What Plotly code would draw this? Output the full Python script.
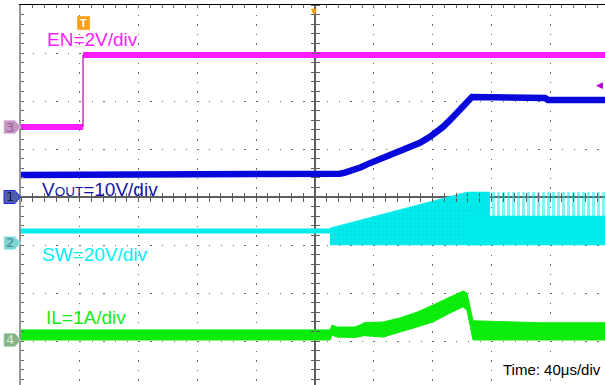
import plotly.graph_objects as go

# ---------------- scope settings ----------------
T_DIV = 40            # us / div, t = 0 at screen centre
X_RANGE = [-200, 197.3]
Y_RANGE = [-3.9167, 4]  # divisions

EN_SCALE, EN_GND = 2.0, 1.458      # V/div, ground (div)
VOUT_SCALE, VOUT_GND = 10.0, 0.0
SW_SCALE, SW_GND = 20.0, -0.958
IL_SCALE, IL_GND = 1.0, -2.979

TRIG_T = -157.8       # us

# ---------------- data ----------------
en_low_t = [-200, TRIG_T]
en_low_v = [0.0, 0.0]
en_high_t = [TRIG_T, 197.3]
en_high_v = [3.0, 3.0]

vout_t = [-200, 10.2, 13.6, 17.0, 20.4, 23.8, 27.2, 31.3, 35.4, 41.5, 47.6, 52.7, 57.8,
          64.6, 71.4, 78.2, 83.0, 87.1, 91.8, 98.6, 103.4, 106.8, 156.5, 158.5, 197.3]
vout_v = [4.58, 4.58, 4.68, 4.85, 5.08, 5.35, 5.7, 6.2, 6.8, 7.6, 8.4, 8.95, 9.5,
          10.3, 11.3, 12.55, 13.6, 14.6, 16.0, 18.1, 19.6, 20.83, 20.63, 20.21, 20.21]

sw_flat_t = [-200, 10.2]
sw_flat_v = [5.0, 5.0]
sw_burst_t = [10.2, 103.4, 119.0]
sw_burst_top = [6.25, 21.25, 21.25]
sw_low = -0.83
sw_sat_t = [103.4, 197.3]
sw_sat_top = 21.25
sw_sat_mid = 11.25

il_t = [-200, 10.2, 11.6, 15.0, 27.0, 30.6, 33.5, 46.3, 57.8, 69.4, 80.3, 91.8, 100.7,
        103.4, 107.5, 153.1, 197.3]
il_hi = [0.21, 0.21, 0.31, 0.27, 0.27, 0.31, 0.36, 0.375, 0.46, 0.58, 0.73, 0.90, 1.02,
         0.98, 0.40, 0.36, 0.36]
il_lo = [0.0, 0.0, 0.10, 0.06, 0.05, 0.07, 0.09, 0.06, 0.17, 0.27, 0.375, 0.56, 0.69,
         0.62, 0.0, 0.0, 0.0]


def div(vals, scale, gnd):
    return [gnd + v / scale for v in vals]


MAG = '#FF1AFF'
BLUE = '#0808DC'
CYAN = '#00ECEC'
GREEN = '#0CEC0C'

fig = go.Figure()

# SW burst (dense switching)
fig.add_trace(go.Scatter(
    x=sw_burst_t + sw_burst_t[::-1],
    y=div(sw_burst_top, SW_SCALE, SW_GND) + div([sw_low] * len(sw_burst_t), SW_SCALE, SW_GND),
    fill='toself', mode='lines', line=dict(width=0.5, color=CYAN),
    fillcolor=CYAN,
    fillpattern=dict(shape='.', fgcolor='rgb(0,185,195)', bgcolor=CYAN, size=4, solidity=0.12),
    hoverinfo='skip'))
# SW lower solid band after saturation
fig.add_trace(go.Scatter(
    x=sw_sat_t + sw_sat_t[::-1],
    y=div([sw_sat_mid] * 2, SW_SCALE, SW_GND) + div([sw_low] * 2, SW_SCALE, SW_GND),
    fill='toself', mode='lines', line=dict(width=0.5, color=CYAN),
    fillcolor=CYAN, hoverinfo='skip'))
# SW upper band of spikes
fig.add_trace(go.Scatter(
    x=sw_sat_t + sw_sat_t[::-1],
    y=div([sw_sat_top] * 2, SW_SCALE, SW_GND) + div([sw_sat_mid] * 2, SW_SCALE, SW_GND),
    fill='toself', mode='lines', line=dict(width=0),
    fillcolor='rgba(0,0,0,0)',
    fillpattern=dict(shape='|', fgcolor=CYAN, bgcolor='rgba(255,255,255,0)', size=5, solidity=0.6),
    hoverinfo='skip'))
# SW flat
fig.add_trace(go.Scatter(x=sw_flat_t, y=div(sw_flat_v, SW_SCALE, SW_GND), mode='lines',
                         line=dict(color=CYAN, width=5), hoverinfo='skip'))

# IL band
fig.add_trace(go.Scatter(
    x=il_t + il_t[::-1],
    y=div(il_hi, IL_SCALE, IL_GND) + div(il_lo[::-1], IL_SCALE, IL_GND),
    fill='toself', mode='lines', line=dict(width=1, color=GREEN), fillcolor=GREEN,
    hoverinfo='skip'))

# VOUT
fig.add_trace(go.Scatter(x=vout_t, y=div(vout_v, VOUT_SCALE, VOUT_GND), mode='lines',
                         line=dict(color=BLUE, width=6.5), hoverinfo='skip'))

# EN
fig.add_trace(go.Scatter(x=en_low_t, y=div(en_low_v, EN_SCALE, EN_GND), mode='lines',
                         line=dict(color=MAG, width=6), hoverinfo='skip'))
fig.add_trace(go.Scatter(x=en_high_t, y=div(en_high_v, EN_SCALE, EN_GND), mode='lines',
                         line=dict(color=MAG, width=6), hoverinfo='skip'))
fig.add_trace(go.Scatter(x=[en_low_t[-1], en_high_t[0]],
                         y=div([en_low_v[-1], en_high_v[0]], EN_SCALE, EN_GND), mode='lines',
                         line=dict(color='#B400B4', width=1.2), hoverinfo='skip'))

# dummy traces for centre-line tick axes
fig.add_trace(go.Scatter(x=[None], y=[None], xaxis='x2', yaxis='y2', hoverinfo='skip'))
fig.add_trace(go.Scatter(x=[None], y=[None], xaxis='x3', yaxis='y3', hoverinfo='skip'))

GRID = 'rgb(105,105,105)'
fig.update_layout(
    width=605, height=385, margin=dict(l=21, r=0, t=5, b=0),
    paper_bgcolor='white', plot_bgcolor='white', showlegend=False,
    xaxis=dict(range=X_RANGE, side='top', showline=True, linecolor='black', linewidth=1,
               showgrid=True, gridcolor=GRID, gridwidth=1, griddash='1.3px,8.3px',
               dtick=T_DIV, tick0=0, ticks='inside', ticklen=3, tickcolor=GRID,
               minor=dict(dtick=T_DIV / 5, tick0=0, ticks='inside', ticklen=3, tickcolor=GRID, showgrid=False),
               showticklabels=False, zeroline=True, zerolinecolor='rgb(95,95,95)', zerolinewidth=1.5,
               fixedrange=True),
    yaxis=dict(range=Y_RANGE, showline=True, linecolor='rgb(150,150,150)', linewidth=2.5,
               showgrid=True, gridcolor=GRID, gridwidth=1, griddash='1.3px,10.46px',
               dtick=1, tick0=0, ticks='inside', ticklen=3, tickcolor=GRID,
               minor=dict(dtick=0.2, tick0=0, ticks='inside', ticklen=3, tickcolor=GRID, showgrid=False),
               showticklabels=False, zeroline=True, zerolinecolor='rgb(95,95,95)', zerolinewidth=1.5,
               fixedrange=True),
    xaxis2=dict(range=X_RANGE, overlaying='x', anchor='free',
                position=(0 - Y_RANGE[0]) / (Y_RANGE[1] - Y_RANGE[0]),
                showgrid=False, zeroline=False, showline=False, showticklabels=False,
                ticks='outside', ticklen=4, tickcolor='rgb(95,95,95)', dtick=T_DIV / 5, tick0=0),
    yaxis2=dict(range=Y_RANGE, overlaying='y', anchor='free',
                position=(0 - X_RANGE[0]) / (X_RANGE[1] - X_RANGE[0]),
                showgrid=False, zeroline=False, showline=False, showticklabels=False,
                ticks='outside', ticklen=4, tickcolor='rgb(95,95,95)', dtick=0.2, tick0=0),
    xaxis3=dict(range=X_RANGE, overlaying='x', anchor='free',
                position=(0 - Y_RANGE[0]) / (Y_RANGE[1] - Y_RANGE[0]),
                showgrid=False, zeroline=False, showline=False, showticklabels=False,
                ticks='inside', ticklen=4, tickcolor='rgb(95,95,95)', dtick=T_DIV / 5, tick0=0),
    yaxis3=dict(range=Y_RANGE, overlaying='y', anchor='free',
                position=(0 - X_RANGE[0]) / (X_RANGE[1] - X_RANGE[0]), side='right',
                showgrid=False, zeroline=False, showline=False, showticklabels=False,
                ticks='outside', ticklen=4, tickcolor='rgb(95,95,95)', dtick=0.2, tick0=0),
)

FONT = 'Liberation Sans, Arial, sans-serif'
labels = [
    ('EN=2V/div', -183.7, 3.29, MAG),
    ('V<span style="font-size:13.5px">OUT</span>=10V/div', -187.1, 0.15, '#1414A8'),
    ('SW=20V/div', -187.1, -1.19, '#00F2F2'),
    ('IL=1A/div', -184.4, -2.52, '#16EC16'),
]
for txt, x, y, c in labels:
    fig.add_annotation(text=txt, x=x, y=y, xref='x', yref='y', xanchor='left', yanchor='middle',
                       showarrow=False, font=dict(family=FONT, size=19, color=c))

fig.add_annotation(text='Time: 40μs/div', xref='paper', yref='paper', x=0.997, y=0.04,
                   xanchor='right', yanchor='middle', showarrow=False, bgcolor='white',
                   font=dict(family=FONT, size=15, color='black'))

# channel ground markers
ymin, ymax = Y_RANGE
markers = [
    ('3', EN_GND, 'rgb(196,150,196)', 'rgb(225,190,225)', 'rgb(150,95,150)'),
    ('1', VOUT_GND, 'rgb(80,95,170)', 'rgb(30,40,230)', 'rgb(20,25,90)'),
    ('2', SW_GND, 'rgb(125,212,212)', 'rgb(180,240,240)', 'rgb(80,130,140)'),
    ('4', IL_GND, 'rgb(135,178,135)', 'rgb(170,220,170)', 'rgb(215,240,215)'),
]
for num, g, fill, border, tc in markers:
    yp = (g - ymin) / (ymax - ymin)
    h = 6.5 / 380
    x0, x1, x2 = (4 - 21) / 584, (15 - 21) / 584, (20.5 - 21) / 584
    fig.add_shape(type='path', xref='paper', yref='paper',
                  path=f'M{x0},{yp - h} L{x1},{yp - h} L{x2},{yp} L{x1},{yp + h} L{x0},{yp + h} Z',
                  fillcolor=fill, line=dict(color=border, width=1))
    fig.add_annotation(text=num, xref='paper', yref='paper', x=(10 - 21) / 584, y=yp,
                       xanchor='center', yanchor='middle', showarrow=False,
                       font=dict(family='DejaVu Sans', size=13, color=tc))

# trigger markers
fig.add_annotation(text='<b>T</b>', x=TRIG_T, y=1 - 10.5 / 380, xref='x', yref='paper',
                   showarrow=False, bgcolor='#FF9E1B', bordercolor='#FFB040', borderpad=0,
                   width=11, height=12, font=dict(family=FONT, size=11, color='white'))
fig.add_annotation(text='▼', x=0, y=1, xref='x', yref='paper', yanchor='top', showarrow=False,
                   font=dict(family='DejaVu Sans', size=8, color='#FF9900'))
fig.add_annotation(text='◀', x=1, y=2.333, xref='paper', yref='y', xanchor='right',
                   showarrow=False, font=dict(family='DejaVu Sans', size=9, color='#B000D0'))

fig.write_html('out.html', config={'displayModeBar': False, 'staticPlot': True},
               post_script="document.body.style.margin='0px';")
